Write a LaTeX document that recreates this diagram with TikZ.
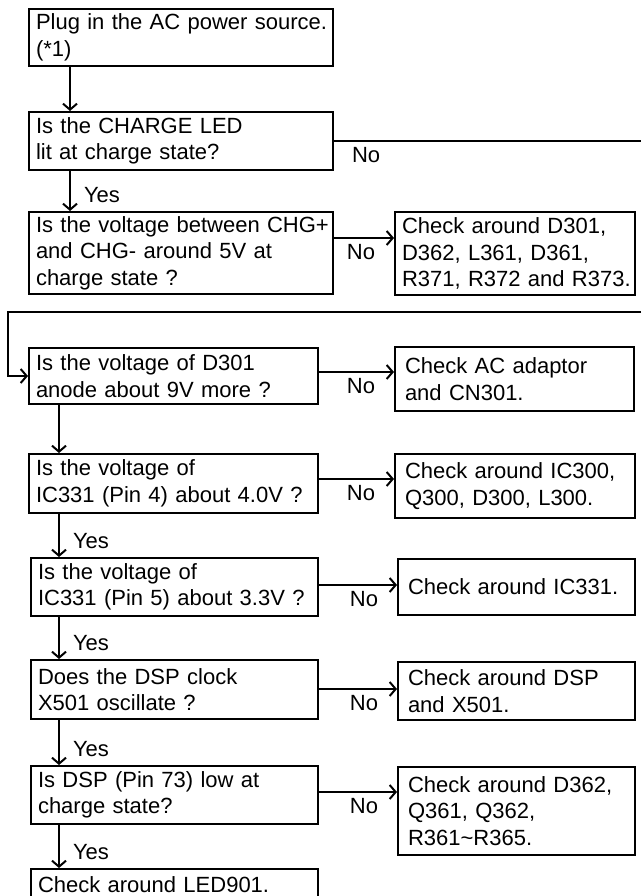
\documentclass[tikz,border=0pt]{standalone}
\usepackage{fontspec}
\setmainfont{Liberation Sans}
\usetikzlibrary{arrows.meta}

\tikzset{
  box/.style={draw, line width=2pt, anchor=north west, align=left,
    inner ysep=0pt, inner xsep=7pt, font=\fontsize{22}{26.5}\selectfont,
    execute at begin node={\rightskip=0pt plus 1fil minus 40pt}},
  rbox/.style={box, inner xsep=10pt},
  arr/.style={line width=2pt, -{Straight Barb[length=6pt,width=14pt]}},
  lbl/.style={font=\fontsize{22}{26.5}\selectfont, inner sep=0pt},
  no/.style={lbl, anchor=base east, xshift=-18pt, yshift=-21pt},
  yes/.style={lbl, anchor=base west, xshift=13pt},
}

\begin{document}
\begin{tikzpicture}[x=1pt, y=-1pt]
  \useasboundingbox (0,0) rectangle (641,896);
  \clip (0,0) rectangle (641,896);

  % left column
  \node[box, text width=290pt, minimum height=57pt] (b1) at (28,8)
    {Plug in the AC power source.\\(*1)};
  \node[box, text width=290pt, minimum height=58pt] (b2) at (28,111)
    {Is the CHARGE LED\\lit at charge state?};
  \node[box, text width=290pt, minimum height=82pt] (b3) at (28,211)
    {Is the voltage between CHG+\\and CHG- around 5V at\\charge state ?};
  \node[box, text width=275pt, minimum height=56pt] (b5) at (28,347)
    {Is the voltage of D301\\anode about 9V more ?};
  \node[box, text width=275pt, minimum height=59pt] (b7) at (28,453)
    {Is the voltage of\\IC331 (Pin 4) about 4.0V ?};
  \node[box, text width=273pt, minimum height=58pt] (b9) at (30,557)
    {Is the voltage of\\IC331 (Pin 5) about 3.3V ?};
  \node[box, text width=273pt, minimum height=59pt] (b11) at (30,659)
    {Does the DSP clock\\X501 oscillate ?};
  \node[box, text width=273pt, minimum height=58pt] (b13) at (30,765)
    {Is DSP (Pin 73) low at\\charge state?};
  \node[box, text width=273pt, minimum height=32pt] (b15) at (30,868)
    {Check around LED901.};

  % right column
  \node[box, text width=226pt, minimum height=83pt] (b4) at (394,211)
    {Check around D301,\\D362, L361, D361,\\R371, R372 and R373.};
  \node[rbox, text width=219pt, minimum height=64pt] (b6) at (394,346)
    {Check AC adaptor\\and CN301.};
  \node[rbox, text width=220pt, minimum height=64pt] (b8) at (394,453)
    {Check around IC300,\\Q300, D300, L300.};
  \node[rbox, text width=217pt, minimum height=56pt] (b10) at (397,558)
    {Check around IC331.};
  \node[rbox, text width=217pt, minimum height=58pt] (b12) at (397,661)
    {Check around DSP\\and X501.};
  \node[rbox, text width=217pt, minimum height=88pt] (b14) at (397,766)
    {Check around D362,\\Q361, Q362,\\R361\textasciitilde R365.};

  \coordinate (edgeR) at (641,140);
  \coordinate (wrapR) at (641,312);
  \coordinate (wrapL) at (8,312);

  % yes / down
  \draw[arr] ([xshift=42pt]b1.south west) -- ([xshift=42pt]b1.south west |- b2.north);
  \draw[arr] ([xshift=42pt]b2.south west) -- ([xshift=42pt]b2.south west |- b3.north)
    node[yes, pos=0.8] {Yes};
  \draw[arr] ([xshift=31pt]b5.south west) -- ([xshift=31pt]b5.south west |- b7.north);
  \draw[arr] ([xshift=31pt]b7.south west) -- ([xshift=31pt]b7.south west |- b9.north)
    node[yes, pos=0.8] {Yes};
  \draw[arr] ([xshift=29pt]b9.south west) -- ([xshift=29pt]b9.south west |- b11.north)
    node[yes, pos=0.8] {Yes};
  \draw[arr] ([xshift=29pt]b11.south west) -- ([xshift=29pt]b11.south west |- b13.north)
    node[yes, pos=0.8] {Yes};
  \draw[arr] ([xshift=29pt]b13.south west) -- ([xshift=29pt]b13.south west |- b15.north)
    node[yes, pos=0.8] {Yes};

  % no / right
  \draw[line width=2pt] (b2.east) -- (b2.east -| edgeR)
    node[lbl, pos=0, anchor=base west, xshift=17pt, yshift=-22pt] {No};
  \draw[arr] ([yshift=-27pt]b3.north east) -- ([yshift=-27pt]b3.north east -| b4.west)
    node[no, pos=1] {No};
  \draw[arr] ([yshift=-25pt]b5.north east) -- ([yshift=-25pt]b5.north east -| b6.west)
    node[no, pos=1] {No};
  \draw[arr] ([yshift=-26pt]b7.north east) -- ([yshift=-26pt]b7.north east -| b8.west)
    node[no, pos=1] {No};
  \draw[arr] ([yshift=-28pt]b9.north east) -- ([yshift=-28pt]b9.north east -| b10.west)
    node[no, pos=1] {No};
  \draw[arr] ([yshift=-30pt]b11.north east) -- ([yshift=-30pt]b11.north east -| b12.west)
    node[no, pos=1] {No};
  \draw[arr] ([yshift=-27pt]b13.north east) -- ([yshift=-27pt]b13.north east -| b14.west)
    node[no, pos=1] {No};

  % wrap-around into D301 check
  \draw[arr] (wrapR) -- (wrapL) |- (b5.west);
\end{tikzpicture}
\end{document}
